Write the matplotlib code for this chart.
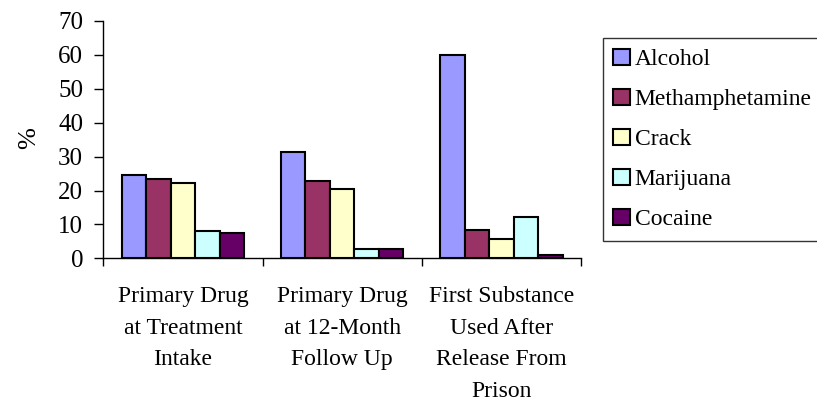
import matplotlib
matplotlib.use("Agg")
import matplotlib.pyplot as plt
import numpy as np

plt.rcParams['font.family'] = ['Liberation Serif', 'DejaVu Serif']

# categories and series (percent)
categories = ["Primary Drug\nat Treatment\nIntake",
              "Primary Drug\nat 12-Month\nFollow Up",
              "First Substance\nUsed After\nRelease From\nPrison"]
drugs = ["Alcohol", "Methamphetamine", "Crack", "Marijuana", "Cocaine"]
alcohol = [24.6, 31.2, 60.0]
methamphetamine = [23.4, 22.9, 8.3]
crack = [22.3, 20.5, 5.8]
marijuana = [8.1, 2.7, 12.3]
cocaine = [7.6, 2.9, 1.0]
yticks = [0, 10, 20, 30, 40, 50, 60, 70]

series = [alcohol, methamphetamine, crack, marijuana, cocaine]
colours = ["#9999FF", "#993366", "#FFFFCC", "#CCFFFF", "#660066"]

fig = plt.figure(figsize=(8.17, 4.0), dpi=100)
ax = fig.add_axes([0.1265, 0.354, 0.5845, 0.594])

x = np.arange(len(categories))
w = 1 / 6.5
for j, (vals, c, name) in enumerate(zip(series, colours, drugs)):
    ax.bar(x + (j - 2) * w, vals, width=w, color=c, edgecolor='black',
           linewidth=1.5, label=name)

ax.set_xlim(-0.5, 2.5)
ax.set_ylim(0, 70)
ax.set_yticks(yticks)
ax.tick_params(axis='y', labelsize=18, length=6.5, width=1, pad=8, direction='out')

# boundary ticks (major, no labels) and centred labels (minor)
ax.set_xticks([-0.5, 0.5, 1.5, 2.5])
ax.set_xticklabels([])
ax.tick_params(axis='x', which='major', length=6, width=1, direction='out')
ax.set_xticks(x, minor=True)
ax.set_xticklabels(categories, minor=True, fontsize=17, linespacing=1.66)
ax.tick_params(axis='x', which='minor', length=0, pad=20)

ax.spines['top'].set_visible(False)
ax.spines['right'].set_visible(False)
ax.spines['left'].set_linewidth(1)
ax.spines['bottom'].set_linewidth(1)

fig.text(29 / 817, 1 - 138 / 400, "%", rotation=90, fontsize=19,
         ha='center', va='center')

leg = fig.legend(loc='upper left', bbox_to_anchor=(602.7 / 817, 1 - 38.3 / 400),
                 fontsize=17, frameon=True, fancybox=False, edgecolor='black',
                 handlelength=0.7, handleheight=0.7, handletextpad=0.2,
                 labelspacing=0.78, borderpad=0.45, borderaxespad=0)
leg.get_frame().set_linewidth(1)

plt.savefig('out.png', dpi=100)
